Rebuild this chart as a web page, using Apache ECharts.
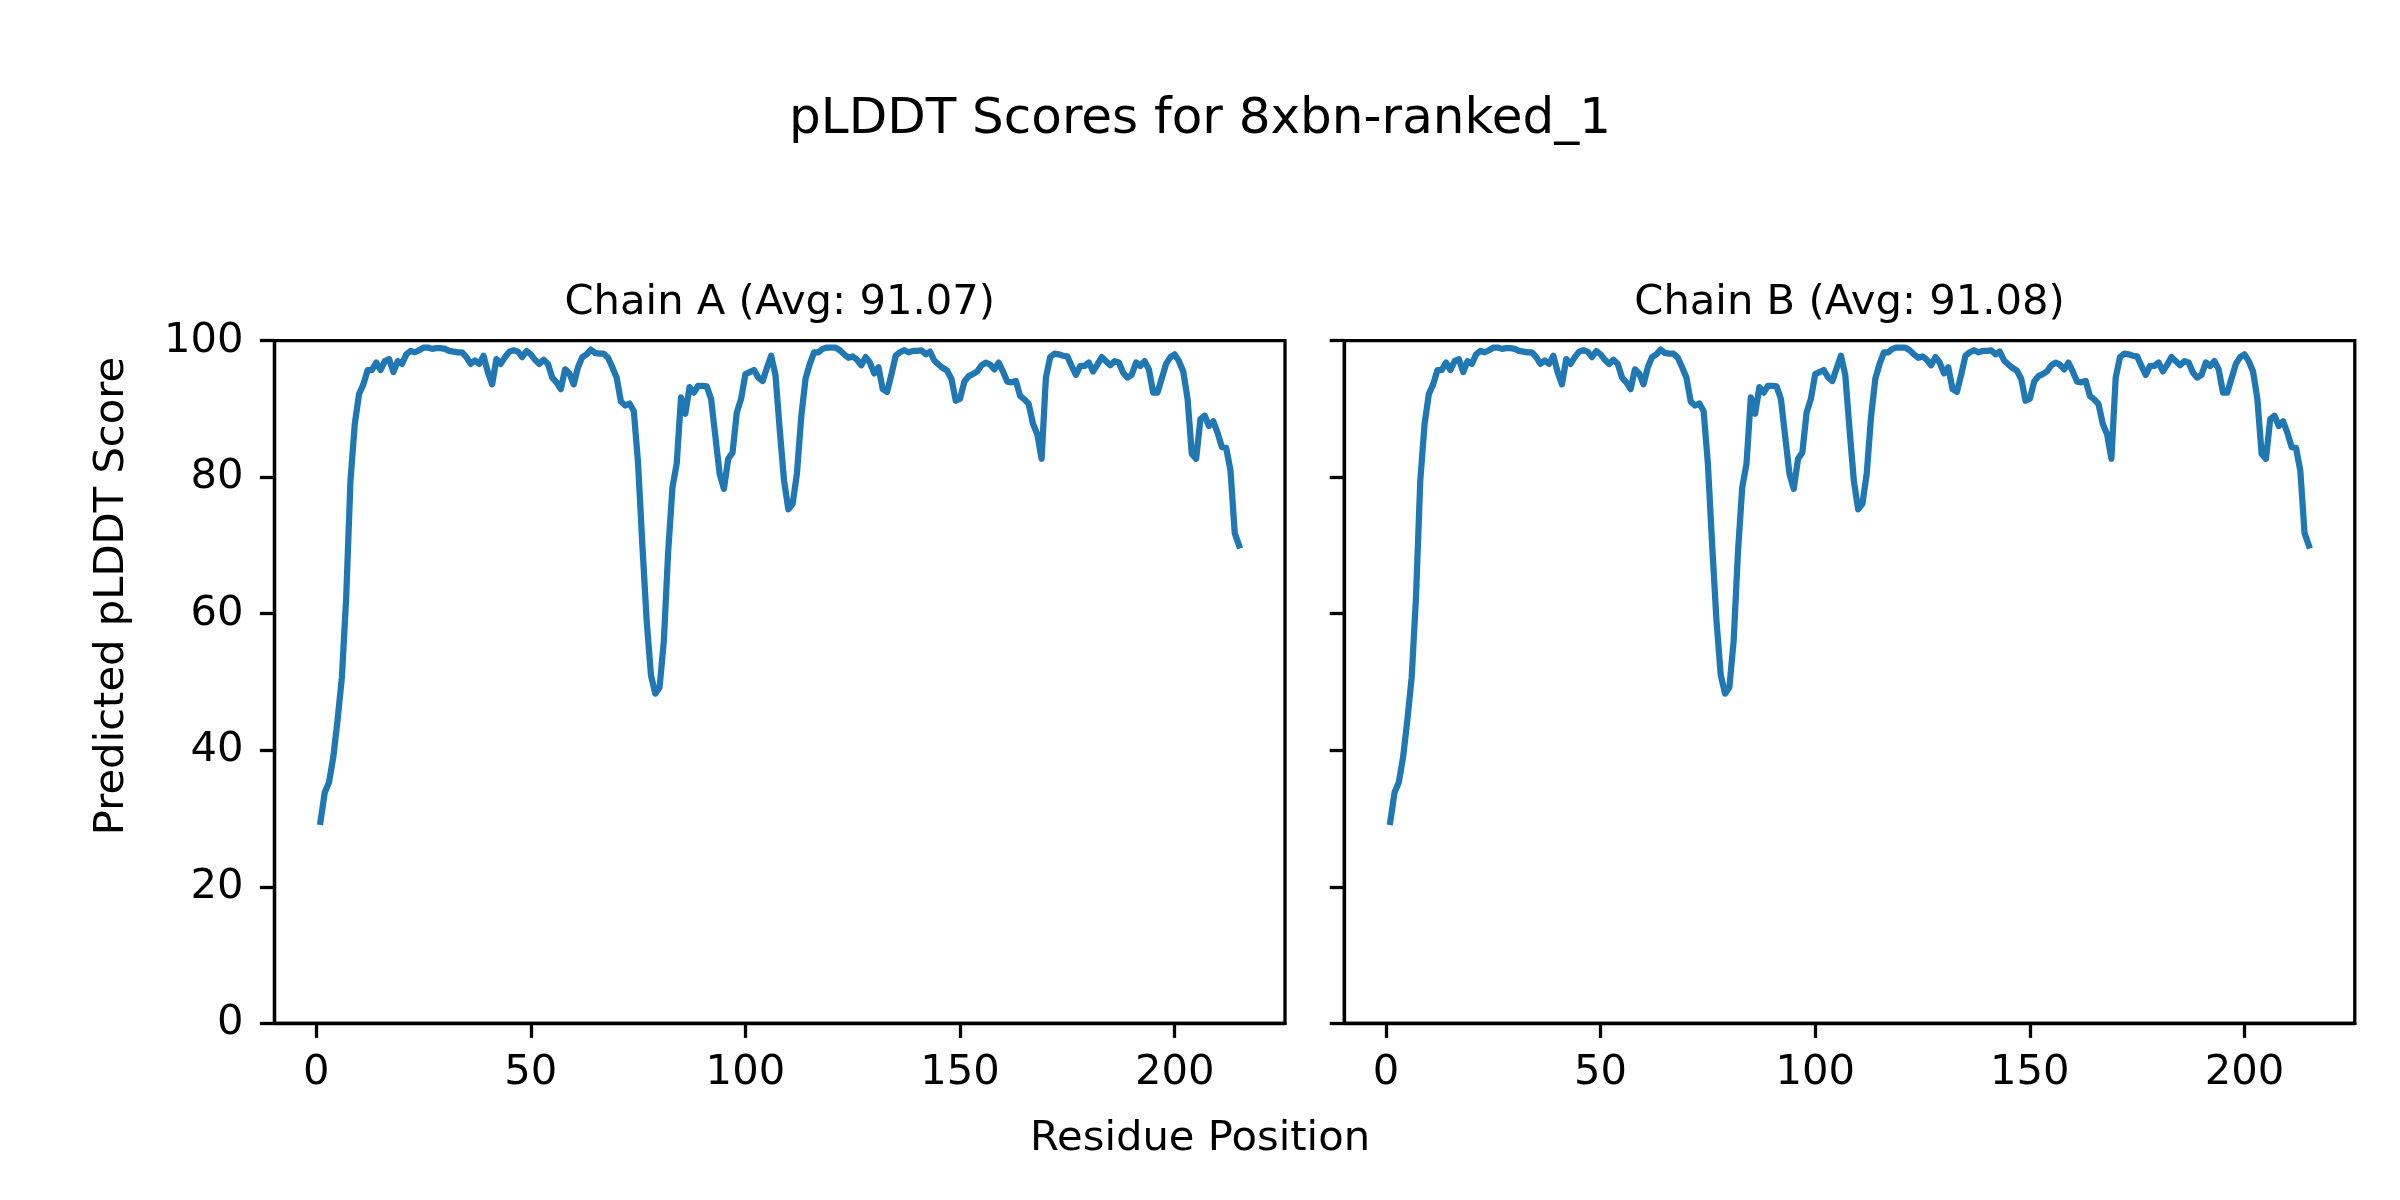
<!DOCTYPE html>
<html>
<head>
<meta charset="utf-8">
<script src="https://cdn.jsdelivr.net/npm/echarts@6/dist/echarts.min.js"></script>
<style>
html,body{margin:0;padding:0;background:#fff;}
#chart{width:2400px;height:1200px;}
</style>
</head>
<body>
<div id="chart"></div>
<script>
// ---- Data ----
const mainTitle = "pLDDT Scores for 8xbn-ranked_1";
const chainTitles = ["Chain A (Avg: 91.07)", "Chain B (Avg: 91.08)"];
const xLabel = "Residue Position";
const yLabel = "Predicted pLDDT Score";
const xTicks = [0, 50, 100, 150, 200];

const chainA = [
  29.5, 33.8, 35.3, 39.0, 44.5, 50.7, 62.4, 79.5, 87.8, 92.2,
  93.6, 95.7, 95.7, 96.8, 95.7, 97.0, 97.3, 95.4, 97.0, 96.6,
  98.0, 98.5, 98.3, 98.6, 99.0, 99.0, 98.8, 98.9, 98.9, 98.8,
  98.5, 98.4, 98.3, 98.3, 97.6, 96.6, 97.1, 96.6, 97.8, 95.4,
  93.6, 97.3, 96.6, 97.6, 98.4, 98.6, 98.4, 97.6, 98.5, 98.0,
  97.2, 96.6, 97.2, 96.6, 94.6, 93.9, 92.9, 95.8, 95.2, 93.6,
  96.1, 97.6, 98.0, 98.7, 98.2, 98.1, 98.1, 97.5, 96.1, 94.6,
  91.1, 90.5, 90.8, 89.7, 82.0, 70.0, 59.0, 51.0, 48.3, 49.2,
  56.0, 69.0, 78.5, 82.0, 91.7, 89.3, 93.2, 92.4, 93.4, 93.4,
  93.3, 91.5, 86.0, 80.5, 78.3, 82.7, 83.6, 89.5, 91.5, 95.1,
  95.4, 95.7, 94.6, 94.1, 96.0, 97.8, 95.0, 87.0, 79.5, 75.3,
  76.1, 80.5, 88.8, 94.4, 96.6, 98.3, 98.3, 98.8, 99.0, 99.0,
  99.0, 98.6, 98.0, 97.5, 97.7, 97.2, 96.4, 97.6, 96.8, 95.2,
  96.1, 92.9, 92.5, 95.0, 97.8, 98.3, 98.6, 98.3, 98.5, 98.5,
  98.6, 98.0, 98.4, 97.1, 96.5, 96.0, 95.6, 94.4, 91.2, 91.5,
  94.0, 94.8, 95.1, 95.5, 96.4, 96.8, 96.5, 95.8, 96.8, 95.5,
  94.0, 93.9, 94.1, 91.9, 91.4, 90.7, 87.8, 86.3, 82.7, 94.6,
  97.6, 98.1, 98.0, 97.8, 97.7, 96.3, 95.0, 96.3, 96.3, 96.8,
  95.5, 96.5, 97.6, 97.0, 96.4, 97.0, 96.8, 95.3, 94.6, 95.0,
  96.8, 96.3, 97.0, 95.8, 92.4, 92.4, 94.5, 96.6, 97.6, 98.0,
  97.0, 95.5, 91.5, 83.4, 82.7, 88.5, 89.0, 87.5, 88.2, 86.5,
  84.4, 84.3, 81.0, 71.8, 70.0
];
const chainB = [
  29.5, 33.8, 35.3, 39.0, 44.5, 50.7, 62.4, 79.5, 87.8, 92.2,
  93.6, 95.7, 95.7, 96.8, 95.7, 97.0, 97.3, 95.4, 97.0, 96.6,
  98.0, 98.5, 98.3, 98.6, 99.0, 99.0, 98.8, 98.9, 98.9, 98.8,
  98.5, 98.4, 98.3, 98.3, 97.6, 96.6, 97.1, 96.6, 97.8, 95.4,
  93.6, 97.3, 96.6, 97.6, 98.4, 98.6, 98.4, 97.6, 98.5, 98.0,
  97.2, 96.6, 97.2, 96.6, 94.6, 93.9, 92.9, 95.8, 95.2, 93.6,
  96.1, 97.6, 98.0, 98.7, 98.2, 98.1, 98.1, 97.5, 96.1, 94.6,
  91.1, 90.5, 90.8, 89.7, 82.0, 70.0, 59.0, 51.0, 48.3, 49.2,
  56.0, 69.0, 78.5, 82.0, 91.7, 89.3, 93.2, 92.4, 93.4, 93.4,
  93.3, 91.5, 86.0, 80.5, 78.3, 82.7, 83.6, 89.5, 91.5, 95.1,
  95.4, 95.7, 94.6, 94.1, 96.0, 97.8, 95.0, 87.0, 79.5, 75.3,
  76.1, 80.5, 88.8, 94.4, 96.6, 98.3, 98.3, 98.8, 99.0, 99.0,
  99.0, 98.6, 98.0, 97.5, 97.7, 97.2, 96.4, 97.6, 96.8, 95.2,
  96.1, 92.9, 92.5, 95.0, 97.8, 98.3, 98.6, 98.3, 98.5, 98.5,
  98.6, 98.0, 98.4, 97.1, 96.5, 96.0, 95.6, 94.4, 91.2, 91.5,
  94.0, 94.8, 95.1, 95.5, 96.4, 96.8, 96.5, 95.8, 96.8, 95.5,
  94.0, 93.9, 94.1, 91.9, 91.4, 90.7, 87.8, 86.3, 82.7, 94.6,
  97.6, 98.1, 98.0, 97.8, 97.7, 96.3, 95.0, 96.3, 96.3, 96.8,
  95.5, 96.5, 97.6, 97.0, 96.4, 97.0, 96.8, 95.3, 94.6, 95.0,
  96.8, 96.3, 97.0, 95.8, 92.4, 92.4, 94.5, 96.6, 97.6, 98.0,
  97.0, 95.5, 91.5, 83.4, 82.7, 88.5, 89.0, 87.5, 88.2, 86.5,
  84.4, 84.3, 81.0, 71.8, 70.0
];

// ---- Layout ----
const FONT = "DejaVu Sans";
const TICK_FS = 41.7;
const SPINE_W = 3.3;
const TICK_LEN = 14.6;
const LINE_COLOR = "#1f77b4";

const grids = [
  { left: 274.5, top: 340.7, width: 1010.5, height: 682.6 },
  { left: 1344.3, top: 340.7, width: 1010.5, height: 682.6 }
];
const N = chainA.length;
const xMin = 1 - 0.05 * (N - 1);
const xMax = N + 0.05 * (N - 1);

function toPairs(arr) { return arr.map((v, i) => [i + 1, v]); }

const chart = echarts.init(document.getElementById('chart'), null, { renderer: 'canvas', width: 2400, height: 1200 });

const option = {
  backgroundColor: '#ffffff',
  animation: false,
  grid: grids.map(g => Object.assign({
    show: true, borderColor: '#000', borderWidth: SPINE_W, backgroundColor: 'transparent', containLabel: false
  }, g)),
  xAxis: [0, 1].map(i => ({
    gridIndex: i, type: 'value', min: xMin, max: xMax,
    axisLine: { show: true, onZero: false, lineStyle: { color: '#000', width: SPINE_W } },
    axisTick: { show: true, inside: false, length: TICK_LEN, customValues: xTicks, lineStyle: { color: '#000', width: SPINE_W } },
    axisLabel: { show: true, customValues: xTicks, margin: 29, fontSize: TICK_FS, fontFamily: FONT, color: '#000' },
    splitLine: { show: false }
  })),
  yAxis: [0, 1].map(i => ({
    gridIndex: i, type: 'value', min: 0, max: 100, interval: 20,
    axisLine: { show: true, onZero: false, lineStyle: { color: '#000', width: SPINE_W } },
    axisTick: { show: true, inside: false, length: TICK_LEN, lineStyle: { color: '#000', width: SPINE_W } },
    axisLabel: { show: i === 0, margin: 31, fontSize: TICK_FS, fontFamily: FONT, color: '#000' },
    splitLine: { show: false }
  })),
  series: [chainA, chainB].map((arr, i) => ({
    type: 'line', xAxisIndex: i, yAxisIndex: i,
    data: toPairs(arr), showSymbol: false, symbol: 'none', smooth: false,
    lineStyle: { color: LINE_COLOR, width: 6.25, join: 'round', cap: 'square' },
    clip: true
  })),
  graphic: [
    { type: 'text', x: 1200, y: 120, style: { text: mainTitle, font: `50px "${FONT}"`, fill: '#000', textAlign: 'center', textVerticalAlign: 'middle' } },
    { type: 'text', x: grids[0].left + grids[0].width / 2, y: 303.5, style: { text: chainTitles[0], font: `41.7px "${FONT}"`, fill: '#000', textAlign: 'center', textVerticalAlign: 'middle' } },
    { type: 'text', x: grids[1].left + grids[1].width / 2, y: 303.5, style: { text: chainTitles[1], font: `41.7px "${FONT}"`, fill: '#000', textAlign: 'center', textVerticalAlign: 'middle' } },
    { type: 'text', x: 1200, y: 1139.5, style: { text: xLabel, font: `41.7px "${FONT}"`, fill: '#000', textAlign: 'center', textVerticalAlign: 'middle' } },
    { type: 'text', x: 112, y: 596, rotation: Math.PI / 2, style: { text: yLabel, font: `41.7px "${FONT}"`, fill: '#000', textAlign: 'center', textVerticalAlign: 'middle' } }
  ]
};
chart.setOption(option);
</script>
</body>
</html>
